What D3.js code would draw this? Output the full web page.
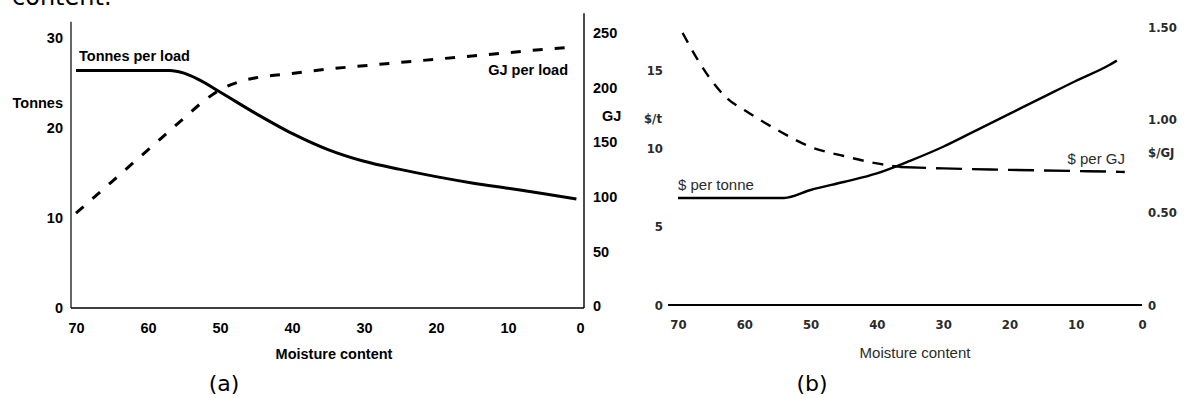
<!DOCTYPE html>
<html lang="en">
<head>
<meta charset="UTF-8">
<title>Moisture content charts</title>
<script src="https://d3js.org/d3.v7.min.js"></script>
<style>
  body { margin: 0; background: #fff; }
  svg { display: block; }
</style>
</head>
<body>
<div id="chart"></div>
<script>
// ---- data, panel (a)
const moistA = [70, 57, 55, 53, 50, 45, 40, 35, 30, 25, 20, 15, 10, 5, 0.5];
const tonnesPerLoad = [26.4, 26.4, 26.1, 25.4, 24.0, 21.6, 19.4, 17.6, 16.3, 15.4, 14.6, 13.9, 13.3, 12.7, 12.1];
const moistGJ = [70, 65, 60, 55, 52, 50, 47, 45, 40, 35, 30, 25, 20, 15, 10, 5, 1];
const gjPerLoad = [85, 114, 143, 172, 189, 198, 206, 209, 213, 217, 220, 223, 226, 229, 232, 235, 237];
const xTicks = [70, 60, 50, 40, 30, 20, 10, 0];
const tonneTicks = [0, 10, 20, 30];
const gjTicks = [0, 50, 100, 150, 200, 250];

// ---- data, panel (b)
const moistB = [70, 54, 50, 45, 40, 35, 30, 25, 20, 15, 10, 5, 3.8];
const dollarPerTonne = [6.83, 6.83, 7.34, 7.85, 8.4, 9.2, 10.1, 11.15, 12.2, 13.25, 14.3, 15.3, 15.6];
const moistB2 = [69.3, 67, 65, 62.5, 60, 55, 50, 45, 40, 36.5, 30, 20, 10, 2.6];
const dollarPerGJ = [1.468, 1.322, 1.214, 1.112, 1.052, 0.944, 0.853, 0.804, 0.764, 0.745, 0.737, 0.729, 0.723, 0.718];
const perTonneTicks = [0, 5, 10, 15];
const perGJTicks = [0, 0.5, 1.0, 1.5];

const W = 1184, H = 398;
const boldFont = "'Liberation Sans', Arial, sans-serif";
const narrowFont = "'Liberation Sans Narrow', 'DejaVu Sans Condensed', sans-serif";

const svg = d3.select("#chart").append("svg")
  .attr("width", W).attr("height", H);

// text cut off at the top of the page (as in the source)
svg.append("text")
  .attr("x", 12).attr("y", 5)
  .style("font-family", "'DejaVu Sans', sans-serif")
  .style("font-size", "24px")
  .text("content.");

// ================= panel (a)
const a = svg.append("g");
const aLeft = 71, aRight = 584, aBottom = 308;

const xA = d3.scaleLinear().domain([70, 0]).range([76, 580]);
const yT = d3.scaleLinear().domain([0, 30]).range([308, 38]);
const yG = d3.scaleLinear().domain([0, 250]).range([306, 33]);

// frame lines
a.append("line")
  .attr("x1", aLeft).attr("x2", aLeft)
  .attr("y1", yT(0)).attr("y2", yT(31.8))
  .attr("stroke", "#000").attr("stroke-width", 1.2);
a.append("line")
  .attr("x1", aRight).attr("x2", aRight)
  .attr("y1", yG(0) + 2).attr("y2", yG(268))
  .attr("stroke", "#000").attr("stroke-width", 1.4);
a.append("line")
  .attr("x1", aLeft).attr("x2", aRight)
  .attr("y1", aBottom).attr("y2", aBottom)
  .attr("stroke", "#000").attr("stroke-width", 1.4);

function styleAxis(g, font, size, weight, color) {
  g.select(".domain").remove();
  g.selectAll("text")
    .style("font-family", font)
    .style("font-size", size)
    .style("font-weight", weight)
    .attr("fill", color);
}

a.append("g")
  .attr("transform", `translate(${aLeft},0)`)
  .call(d3.axisLeft(yT).tickValues(tonneTicks).tickSize(0).tickPadding(8))
  .call(g => styleAxis(g, boldFont, "14.5px", "bold", "#000"));

a.append("g")
  .attr("transform", `translate(${aRight},0)`)
  .call(d3.axisRight(yG).tickValues(gjTicks).tickSize(0).tickPadding(9))
  .call(g => styleAxis(g, boldFont, "14.5px", "bold", "#000"));

a.append("g")
  .attr("transform", `translate(0,${aBottom})`)
  .call(d3.axisBottom(xA).tickValues(xTicks).tickSize(0).tickPadding(15))
  .call(g => styleAxis(g, boldFont, "14.5px", "bold", "#000"));

const lineT = d3.line()
  .x((d, i) => xA(moistA[i])).y(d => yT(d))
  .curve(d3.curveMonotoneX);
a.append("path")
  .attr("d", lineT(tonnesPerLoad))
  .attr("fill", "none").attr("stroke", "#000").attr("stroke-width", 3);

const lineG = d3.line()
  .x((d, i) => xA(moistGJ[i])).y(d => yG(d))
  .curve(d3.curveMonotoneX);
a.append("path")
  .attr("d", lineG(gjPerLoad))
  .attr("fill", "none").attr("stroke", "#000").attr("stroke-width", 3)
  .attr("stroke-dasharray", "10,12");

function label(g, x, y, txt, anchor, font, size, weight, color) {
  g.append("text")
    .attr("x", x).attr("y", y)
    .attr("text-anchor", anchor)
    .attr("dominant-baseline", "central")
    .style("font-family", font)
    .style("font-size", size)
    .style("font-weight", weight)
    .attr("fill", color)
    .text(txt);
}

label(a, 79, 56, "Tonnes per load", "start", boldFont, "14.5px", "bold", "#000");
label(a, 568, 70, "GJ per load", "end", boldFont, "14.5px", "bold", "#000");
label(a, 63, 103, "Tonnes", "end", boldFont, "14.5px", "bold", "#000");
label(a, 602, 116, "GJ", "start", boldFont, "14.5px", "bold", "#000");
label(a, 334, 354, "Moisture content", "middle", boldFont, "14.5px", "bold", "#000");
a.append("text")
  .attr("x", 224).attr("y", 391)
  .attr("text-anchor", "middle")
  .style("font-family", "'DejaVu Sans', sans-serif")
  .style("font-size", "22px")
  .text("(a)");

// ================= panel (b)
const b = svg.append("g");
const bBottom = 305;
const xB = d3.scaleLinear().domain([70, 0]).range([678, 1142]);
const yL = d3.scaleLinear().domain([0, 15]).range([305, 70]);
const yR = d3.scaleLinear().domain([0, 1.5]).range([305, 27]);
const grey = "#2b2b2b";

b.append("line")
  .attr("x1", 668).attr("x2", xB(0))
  .attr("y1", bBottom).attr("y2", bBottom)
  .attr("stroke", "#000").attr("stroke-width", 2.2);

b.append("g")
  .attr("transform", "translate(663,0)")
  .call(d3.axisLeft(yL).tickValues(perTonneTicks).tickSize(0).tickPadding(0))
  .call(g => styleAxis(g, narrowFont, "13px", "bold", grey));

b.append("g")
  .attr("transform", "translate(1148,0)")
  .call(d3.axisRight(yR).tickValues(perGJTicks).tickSize(0).tickPadding(0)
    .tickFormat(d => d === 0 ? "0" : d3.format(".2f")(d)))
  .call(g => styleAxis(g, narrowFont, "13px", "bold", grey));

b.append("g")
  .attr("transform", `translate(0,${bBottom})`)
  .call(d3.axisBottom(xB).tickValues(xTicks).tickSize(0).tickPadding(15))
  .call(g => styleAxis(g, narrowFont, "13px", "bold", grey));

const linePT = d3.line()
  .x((d, i) => xB(moistB[i])).y(d => yL(d))
  .curve(d3.curveMonotoneX);
b.append("path")
  .attr("d", linePT(dollarPerTonne))
  .attr("fill", "none").attr("stroke", "#000").attr("stroke-width", 2.4);

// $ per GJ: short dashes before the crossing, long dashes after
const gjPts = dollarPerGJ.map((v, i) => [moistB2[i], v]);
const lineGJ = d3.line()
  .x(d => xB(d[0])).y(d => yR(d[1]))
  .curve(d3.curveMonotoneX);
b.append("path")
  .attr("d", lineGJ(gjPts.filter(d => d[0] >= 36.5)))
  .attr("fill", "none").attr("stroke", "#000").attr("stroke-width", 2.4)
  .attr("stroke-dasharray", "11,9");
b.append("path")
  .attr("d", lineGJ(gjPts.filter(d => d[0] <= 36.5)))
  .attr("fill", "none").attr("stroke", "#000").attr("stroke-width", 2.4)
  .attr("stroke-dasharray", "26,10");

label(b, 678, 184, "$ per tonne", "start", boldFont, "15px", "normal", grey);
label(b, 1125, 158, "$ per GJ", "end", boldFont, "15px", "normal", grey);
label(b, 662, 118, "$/t", "end", narrowFont, "13px", "bold", grey);
label(b, 1148, 152, "$/GJ", "start", narrowFont, "13px", "bold", grey);
label(b, 915, 352, "Moisture content", "middle", boldFont, "15px", "normal", grey);
b.append("text")
  .attr("x", 812).attr("y", 391)
  .attr("text-anchor", "middle")
  .style("font-family", "'DejaVu Sans', sans-serif")
  .style("font-size", "22px")
  .text("(b)");
</script>
</body>
</html>
